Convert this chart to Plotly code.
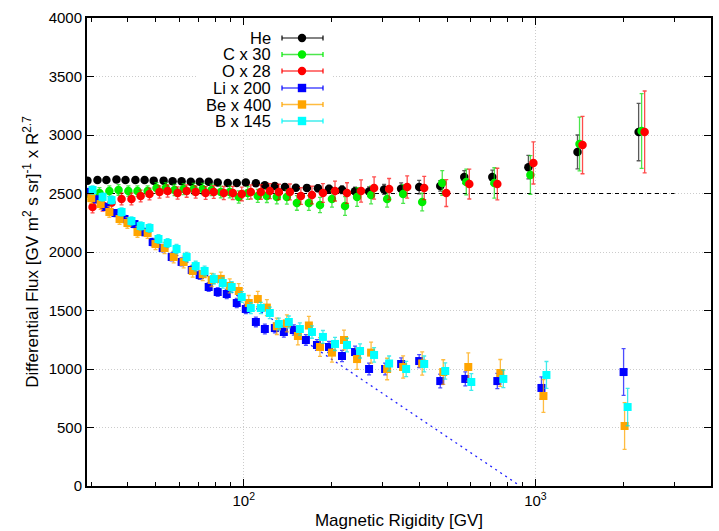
import math
import plotly.graph_objects as go

# ---------------- data ----------------
He_R = [29.1, 31.5, 33.8, 36.6, 39.3, 42.5, 45.7, 49.1, 53.1, 57.0, 61.2, 65.8, 70.6, 75.8, 81.4, 88.1, 94.6,
        101.6, 110.0, 118.1, 127.8, 138.4, 150.9, 164.6, 179.6, 196.0, 217.2, 240.7, 268.9, 302.8, 346.4,
        399.4, 471.7, 570.2, 711.6, 946.0, 1394, 2259]
He_F = [2610, 2615, 2615, 2620, 2615, 2615, 2615, 2610, 2610, 2605, 2605, 2600, 2600, 2600, 2595, 2590, 2590,
        2595, 2588, 2570, 2565, 2555, 2550, 2548, 2545, 2540, 2532, 2520, 2518, 2535, 2540, 2555, 2565,
        2640, 2640, 2725, 2855, 3025]
He_E = [20] * 17 + [22, 22, 23, 24, 25, 26, 27, 28, 30, 32, 35, 38, 42, 50, 58, 45, 55, 60, 100, 145, 245]

C_R = [29.6, 32.0, 34.6, 37.2, 40.2, 43.2, 46.8, 50.2, 54.0, 57.9, 62.2, 67.3, 72.3, 77.6, 83.4, 89.5, 96.1,
       103.2, 111.7, 120.0, 129.8, 140.5, 152.1, 167.2, 182.5, 200.6, 222.4, 244.6, 273.2, 310.1, 351.9,
       409.0, 479.2, 579.4, 723.0, 961.2, 1416.6, 2313]
C_F = [2495, 2505, 2521, 2530, 2521, 2521, 2521, 2547, 2547, 2530, 2538, 2538, 2538, 2530, 2513, 2513, 2470,
       2504, 2479, 2479, 2470, 2470, 2419, 2419, 2402, 2453, 2393, 2470, 2487, 2453, 2496, 2427, 2590,
       2598, 2590, 2658, 2923, 3034]
C_E = [45, 45, 45, 45, 45, 45, 45, 46, 46, 47, 47, 48, 48, 49, 50, 50, 52,
       54, 55, 56, 58, 60, 62, 63, 65, 70, 80, 80, 75, 70, 80, 75, 105, 110, 130, 165, 230, 320]

O_R = [30.3, 32.8, 35.2, 38.1, 41.2, 44.3, 47.5, 51.4, 54.8, 59.3, 63.7, 68.4, 74.0, 78.9, 85.4, 91.7,
       98.4, 105.7, 114.4, 122.8, 131.9, 143.9, 157.0, 171.3, 186.8, 205.5, 225.9, 252.4, 279.8, 315.0,
       363.3, 415.6, 494.6, 593.3, 740.3, 984.2, 1450.6, 2369]
O_F = [2385, 2400, 2420, 2453, 2453, 2479, 2496, 2513, 2521, 2504, 2521, 2513, 2504, 2513, 2504, 2504,
       2496, 2513, 2513, 2521, 2513, 2513, 2479, 2487, 2504, 2521, 2504, 2521, 2547, 2538, 2555, 2547,
       2504, 2581, 2581, 2761, 2914, 3026]
O_E = [50, 50, 50, 50, 50, 50, 50, 52, 52, 52, 53, 53, 54, 55, 56, 57,
       58, 60, 62, 64, 66, 68, 72, 75, 80, 85, 88, 95, 95, 90, 95, 100, 115, 128, 135, 180, 245, 350]

Li_R = [29.1, 31.3, 33.6, 36.3, 39.0, 42.2, 45.3, 48.7, 52.7, 56.6, 61.2, 66.3, 70.6, 75.8, 81.4, 87.4, 94.6,
        101.6, 110.0, 118.1, 127.8, 137.2, 148.5, 163.3, 178.2, 196.0, 217.2, 240.7, 268.9, 305.2, 346.4,
        399.4, 471.7, 574.8, 740.3, 1048.6, 2006]
Li_F = [2513, 2450, 2385, 2333, 2282, 2239, 2171, 2085, 2034, 1957, 1915, 1846, 1803, 1701, 1658, 1641, 1564,
        1513, 1402, 1342, 1350, 1316, 1333, 1248, 1205, 1188, 1111, 1145, 1000, 1000, 1043, 1068, 897,
        915, 897, 838, 974]
Li_E = [30, 30, 30, 30, 30, 30, 32, 32, 32, 33, 34, 35, 36, 37, 38, 39, 40,
        40, 41, 42, 42, 43, 44, 45, 46, 47, 48, 50, 50, 50, 52, 55, 58, 60, 65, 95, 200]

Be_R = [30.0, 32.3, 34.6, 37.5, 39.9, 43.2, 46.8, 49.8, 53.5, 57.5, 62.2, 66.8, 72.3, 77.6, 83.4, 89.5, 96.1,
        104.0, 111.7, 120.0, 129.8, 140.5, 153.3, 167.2, 182.5, 200.6, 220.6, 244.6, 273.2, 310.1, 351.9,
        409.0, 483.0, 588.6, 758.1, 1065.4, 2022]
Be_F = [2460, 2410, 2342, 2282, 2248, 2171, 2162, 2068, 2034, 1957, 1915, 1838, 1810, 1761, 1770, 1710, 1667,
        1564, 1598, 1525, 1365, 1390, 1282, 1372, 1188, 1140, 1248, 1085, 1140, 1000, 1017, 1047, 974,
        1017, 966, 769, 513]
Be_E = [45, 45, 45, 45, 45, 45, 46, 47, 48, 50, 50, 52, 54, 56, 58, 60, 62,
        64, 66, 68, 70, 72, 75, 78, 80, 82, 85, 88, 90, 92, 95, 100, 105, 120, 115, 140, 200]

B_R = [30.3, 32.8, 35.2, 38.1, 41.2, 44.3, 47.5, 51.0, 54.8, 58.8, 63.7, 68.4, 73.4, 78.9, 84.7, 90.9, 98.4,
       105.7, 114.4, 122.8, 131.9, 142.7, 155.7, 171.3, 186.8, 205.5, 225.9, 250.4, 279.8, 315.0, 360.4,
       415.6, 490.7, 602.8, 776.3, 1091.0, 2071]
B_F = [2530, 2470, 2444, 2342, 2265, 2222, 2205, 2111, 2077, 2026, 1957, 1880, 1838, 1769, 1735, 1701, 1615,
       1521, 1521, 1479, 1385, 1402, 1342, 1316, 1274, 1214, 1205, 1154, 1120, 1047, 1000, 1043, 983,
       889, 915, 949, 675]
B_E = [35, 35, 35, 35, 35, 35, 36, 37, 38, 39, 40, 41, 42, 43, 44, 45, 46,
       47, 48, 49, 50, 51, 52, 53, 55, 56, 58, 60, 62, 64, 66, 68, 70, 72, 75, 115, 160]

ref_R = [29, 3000]
ref_F = [2500, 2500]
fit_R = [29, 887]
fit_F = [2490, 0]

labels = ["He", "C x 30", "O x 28", "Li x 200", "Be x 400", "B x 145"]
colors = ["#000000", "#00ee00", "#ff0000", "#0000ff", "#ffa500", "#00ffff"]
ecolors = ["rgba(0,0,0,0.65)", "rgba(0,220,0,0.7)", "rgba(255,0,0,0.7)",
           "rgba(0,0,255,0.7)", "rgba(255,165,0,0.75)", "rgba(0,230,230,0.75)"]
symbols = ["circle", "circle", "circle", "square", "square", "square"]
series = [(He_R, He_F, He_E), (C_R, C_F, C_E), (O_R, O_F, O_E),
          (Li_R, Li_F, Li_E), (Be_R, Be_F, Be_E), (B_R, B_F, B_E)]

FONT = "Liberation Sans, Arial, sans-serif"

fig = go.Figure()

# reference lines
fig.add_trace(go.Scatter(x=ref_R, y=ref_F, mode="lines", showlegend=False,
                         line=dict(color="black", width=1.2, dash="4px,4px")))
fig.add_trace(go.Scatter(x=fit_R, y=fit_F, mode="lines", showlegend=False,
                         line=dict(color="#2020ff", width=1.3, dash="2px,4px")))

for (xs, ys, es), lab, c, ec, sym in zip(series, labels, colors, ecolors, symbols):
    fig.add_trace(go.Scatter(
        x=xs, y=ys, mode="markers", name=lab, showlegend=False,
        marker=dict(color=c, size=8.5 if sym == "circle" else 8, symbol=sym, line=dict(width=0)),
        error_y=dict(type="data", array=es, color=ec, thickness=1.3, width=2),
    ))

# ---- gnuplot-style key (drawn manually) ----
W, H = 624.0, 468.0
shapes = []
annotations = []
shapes.append(dict(type="rect", xref="paper", yref="paper", x0=(197 - 87) / W, x1=(332 - 87) / W,
                   y0=(486 - 130) / H, y1=(486 - 27) / H, fillcolor="white", line=dict(width=0),
                   layer="above"))
row_py = [38, 54.5, 71, 88, 104.5, 121]
for lab, c, ec, sym, py in zip(labels, colors, ecolors, symbols, row_py):
    yy = (486 - py) / H
    xa, xb, xm = (282 - 87) / W, (323 - 87) / W, (302 - 87) / W
    shapes.append(dict(type="line", xref="paper", yref="paper", x0=xa, x1=xb, y0=yy, y1=yy,
                       line=dict(color=ec, width=1.5), layer="above"))
    for xe in (xa, xb):
        shapes.append(dict(type="line", xref="paper", yref="paper", x0=xe, x1=xe,
                           y0=yy - 2.5 / H, y1=yy + 2.5 / H, line=dict(color=c, width=1.2), layer="above"))
    r = 4.2
    shapes.append(dict(type="circle" if sym == "circle" else "rect", xref="paper", yref="paper",
                       x0=xm - r / W, x1=xm + r / W, y0=yy - r / H, y1=yy + r / H,
                       fillcolor=c, line=dict(width=0), layer="above"))
    annotations.append(dict(text=lab, xref="paper", yref="paper", x=(273 - 87) / W, y=yy,
                            xanchor="right", yanchor="middle", showarrow=False,
                            font=dict(family=FONT, size=16.5, color="black")))

minor_vals = [30, 40, 50, 60, 70, 80, 90, 200, 300, 400, 500, 600, 700, 800, 900, 2000, 3000, 4000]

fig.update_layout(
    width=719, height=531,
    margin=dict(l=87, r=8, t=18, b=45),
    paper_bgcolor="white", plot_bgcolor="white",
    font=dict(family=FONT, size=15, color="black"),
    shapes=shapes, annotations=annotations,
    xaxis=dict(
        type="log", range=[math.log10(29), math.log10(4000)],
        tickvals=[100, 1000], ticktext=["10<sup>2</sup>", "10<sup>3</sup>"],
        ticks="inside", ticklen=7, tickwidth=1, tickcolor="black",
        minor=dict(tickvals=minor_vals, ticks="inside", ticklen=4, tickwidth=1, tickcolor="black", showgrid=False),
        showgrid=True, gridcolor="#cccccc", gridwidth=1, griddash="1px,2px",
        zeroline=False,
        showline=True, linecolor="black", linewidth=2, mirror="allticks",
        tickfont=dict(size=15),
        title=dict(text="Magnetic Rigidity [GV]", font=dict(size=17), standoff=6),
        automargin=False,
    ),
    yaxis=dict(
        range=[0, 4000], tickvals=[0, 500, 1000, 1500, 2000, 2500, 3000, 3500, 4000],
        ticks="inside", ticklen=7, tickwidth=1, tickcolor="black",
        showgrid=True, gridcolor="#cccccc", gridwidth=1, griddash="1px,2px",
        zeroline=False, showline=True, linecolor="black", linewidth=2, mirror="allticks",
        tickfont=dict(size=15),
        title=dict(text="Differential Flux [GV m<sup>2</sup> s sr]<sup>-1</sup> x R<sup>2.7</sup>",
                   font=dict(size=17), standoff=6),
        automargin=False,
    ),
)

fig.write_html("out.html", config={"displayModeBar": False},
               post_script="document.body.style.margin='0';document.body.style.overflow='hidden';")
